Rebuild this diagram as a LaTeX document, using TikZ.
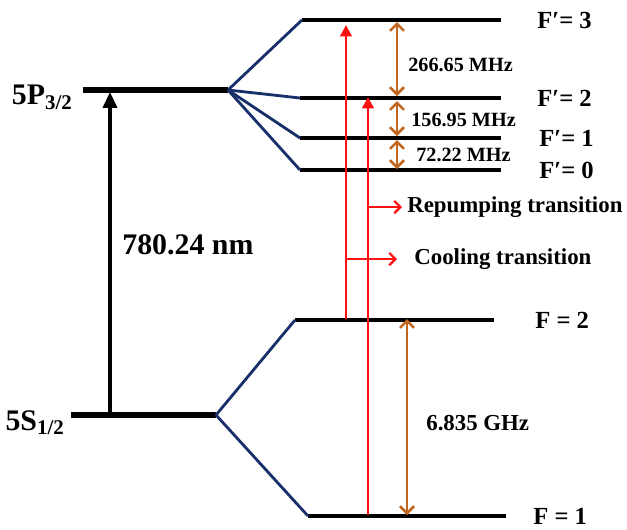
\documentclass[tikz,border=0pt]{standalone}
\usepackage{fontspec}
\setmainfont{Liberation Serif}
\usepackage{xcolor}
\definecolor{rbblue}{HTML}{17306A}
\definecolor{rbred}{HTML}{FF1010}
\definecolor{rborange}{HTML}{C2661E}
\usepackage{tikz}
\usetikzlibrary{arrows.meta,positioning,calc}

\begin{document}
\begin{tikzpicture}[x=0.02cm,y=-0.02cm,
  level/.style={line width=1.8pt},
  mainlevel/.style={line width=3pt},
  split/.style={rbblue,line width=1.6pt},
  laser/.style={rbred,line width=1.7pt,-{Triangle[length=6.5pt,width=6.5pt]}},
  pointer/.style={rbred,line width=1.3pt,-{Straight Barb[length=3.5pt,width=7pt]}},
  gap/.style={rborange,line width=1.5pt,{Straight Barb[length=4pt,width=8pt]}-{Straight Barb[length=4pt,width=8pt]}},
  lbl/.style={font=\bfseries\fontsize{13}{15}\selectfont,inner sep=0pt,anchor=west},
  flbl/.style={font=\bfseries\fontsize{14}{16}\selectfont,inner sep=0pt,anchor=west},
  small/.style={font=\bfseries\fontsize{11.5}{13}\selectfont,inner sep=0pt,anchor=west},
  big/.style={font=\bfseries\fontsize{17}{20}\selectfont,inner sep=0pt}]
\useasboundingbox (0,0) rectangle (627,529);

% fine structure levels
\coordinate (p0) at (83,90);  \coordinate (p1) at (228,90);
\coordinate (s0) at (71,415); \coordinate (s1) at (216,415);
\draw[mainlevel] (p0) -- (p1);
\draw[mainlevel] (s0) -- (s1);
\node[big,left=2mm of p0,yshift=-1.5mm] (lp) {5P\textsubscript{3/2}};
\node[big,left=1.2mm of s0,yshift=-1.5mm] (ls) {5S\textsubscript{1/2}};

% hyperfine levels of 5P3/2
\coordinate (e3a) at (302,20);  \coordinate (e3b) at (501,20);
\coordinate (e2a) at (300,98);  \coordinate (e2b) at (501,98);
\coordinate (e1a) at (300,138); \coordinate (e1b) at (501,138);
\coordinate (e0a) at (300,170); \coordinate (e0b) at (501,170);
\foreach \f in {0,1,2,3}{
  \draw[level] (e\f a) -- (e\f b);
  \draw[split] (p1) -- (e\f a);
}
\node[flbl] (le3) at (537,20)  {F′= 3};
\node[flbl] (le2) at (537,98)  {F′= 2};
\node[flbl] (le1) at (539,138) {F′= 1};
\node[flbl] (le0) at (539,170) {F′= 0};

% hyperfine levels of 5S1/2
\coordinate (g2a) at (295,320); \coordinate (g2b) at (494,320);
\coordinate (g1a) at (308,516); \coordinate (g1b) at (506,516);
\draw[level] (g2a) -- (g2b);
\draw[level] (g1a) -- (g1b);
\draw[split] (s1) -- (g2a);
\draw[split] (s1) -- (g1a);
\node[flbl] (lg2) at (535,320) {F = 2};
\node[flbl] (lg1) at (533,516) {F = 1};

% D2 line
\coordinate (d0) at (110,414); \coordinate (d1) at (110,92);
\draw[line width=1.8pt,-{Triangle[length=9pt,width=8pt]}] (d0) -- (d1);
\node[big,anchor=west] (ld) at (122,245) {780.24 nm};

% laser transitions
\coordinate (c0) at (346,319); \coordinate (c1) at (346,25);
\coordinate (r0) at (368,515); \coordinate (r1) at (368,97);
\draw[laser] (c0) -- (c1);
\draw[laser] (r0) -- (r1);
\coordinate (rp0) at (368,207); \coordinate (rp1) at (402,207);
\coordinate (cp0) at (346,259); \coordinate (cp1) at (397,259);
\draw[pointer] (rp0) -- (rp1);
\draw[pointer] (cp0) -- (cp1);
\node[lbl] (lrep) at (407,207) {Repumping transition};
\node[lbl] (lcool) at (414,259) {Cooling transition};

% splittings
\coordinate (h0) at (397,22);  \coordinate (h1) at (397,96);
\coordinate (h2) at (397,101); \coordinate (h3) at (397,136);
\coordinate (h4) at (397,140); \coordinate (h5) at (397,169);
\coordinate (h6) at (407,319); \coordinate (h7) at (407,515);
\draw[gap] (h0) -- (h1);
\draw[gap] (h2) -- (h3);
\draw[gap] (h4) -- (h5);
\draw[gap] (h6) -- (h7);
\node[small] (l266) at (408,65)  {266.65 MHz};
\node[small] (l156) at (411,120) {156.95 MHz};
\node[small] (l72)  at (416,155) {72.22 MHz};
\node[lbl] (lghz) at (426,423) {6.835 GHz};
\end{tikzpicture}
\end{document}
